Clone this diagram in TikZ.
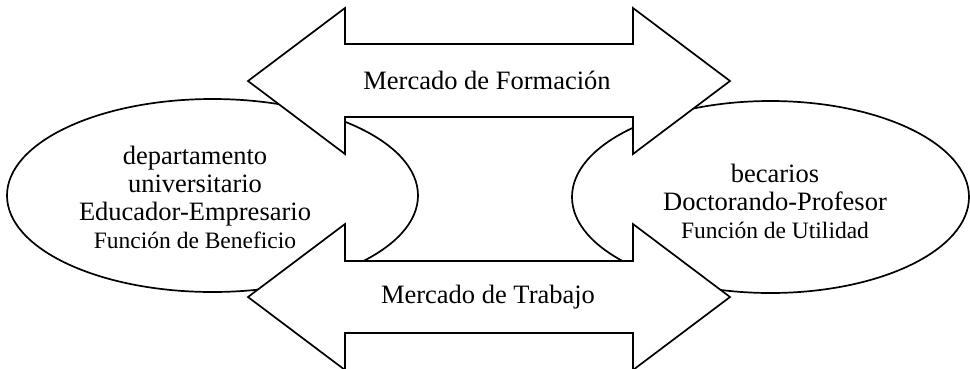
\documentclass[tikz,border=0pt]{standalone}
\usepackage{fontspec}
\setmainfont{Liberation Serif}
\usetikzlibrary{shapes.geometric}
\begin{document}
\begin{tikzpicture}[x=1pt,y=-1pt,
  line width=1.7pt, line join=miter,
  oval/.style={draw, ellipse, fill=white, inner sep=0pt},
  bigarrow/.style={draw, fill=white},
  lbl/.style={align=center, inner sep=0pt, font=\fontsize{26.5}{28}\selectfont},
  small/.style={font=\fontsize{23.5}{27}\selectfont}]
\useasboundingbox (0,0) rectangle (970,368);
% ellipses
\node[oval, minimum width=411pt, minimum height=193pt] (dep) at (212.5,195.5) {};
\node[oval, minimum width=397pt, minimum height=192pt] (bec) at (770.5,197) {};
% top double arrow
\draw[bigarrow] (248,81) -- (345,8) -- (345,44) -- (633,44) -- (633,8) -- (730,81)
  -- (633,154) -- (633,117) -- (345,117) -- (345,154) -- cycle;
% bottom double arrow
\draw[bigarrow] (248,297) -- (345,224) -- (345,261) -- (633,261) -- (633,224) -- (730,297)
  -- (633,370) -- (633,333) -- (345,333) -- (345,370) -- cycle;
% labels
\node[lbl] (formacion) at (487,80) {Mercado de Formación};
\node[lbl] (trabajo) at (488,297) {Mercado de Trabajo};
\node[lbl] (deptxt) at (195,197) {departamento\\universitario\\Educador-Empresario\\{\fontsize{23.5}{27}\selectfont Función de Beneficio}};
\node[lbl] (bectxt) at (775,201) {becarios\\Doctorando-Profesor\\{\fontsize{23.5}{27}\selectfont Función de Utilidad}};
\end{tikzpicture}
\end{document}
